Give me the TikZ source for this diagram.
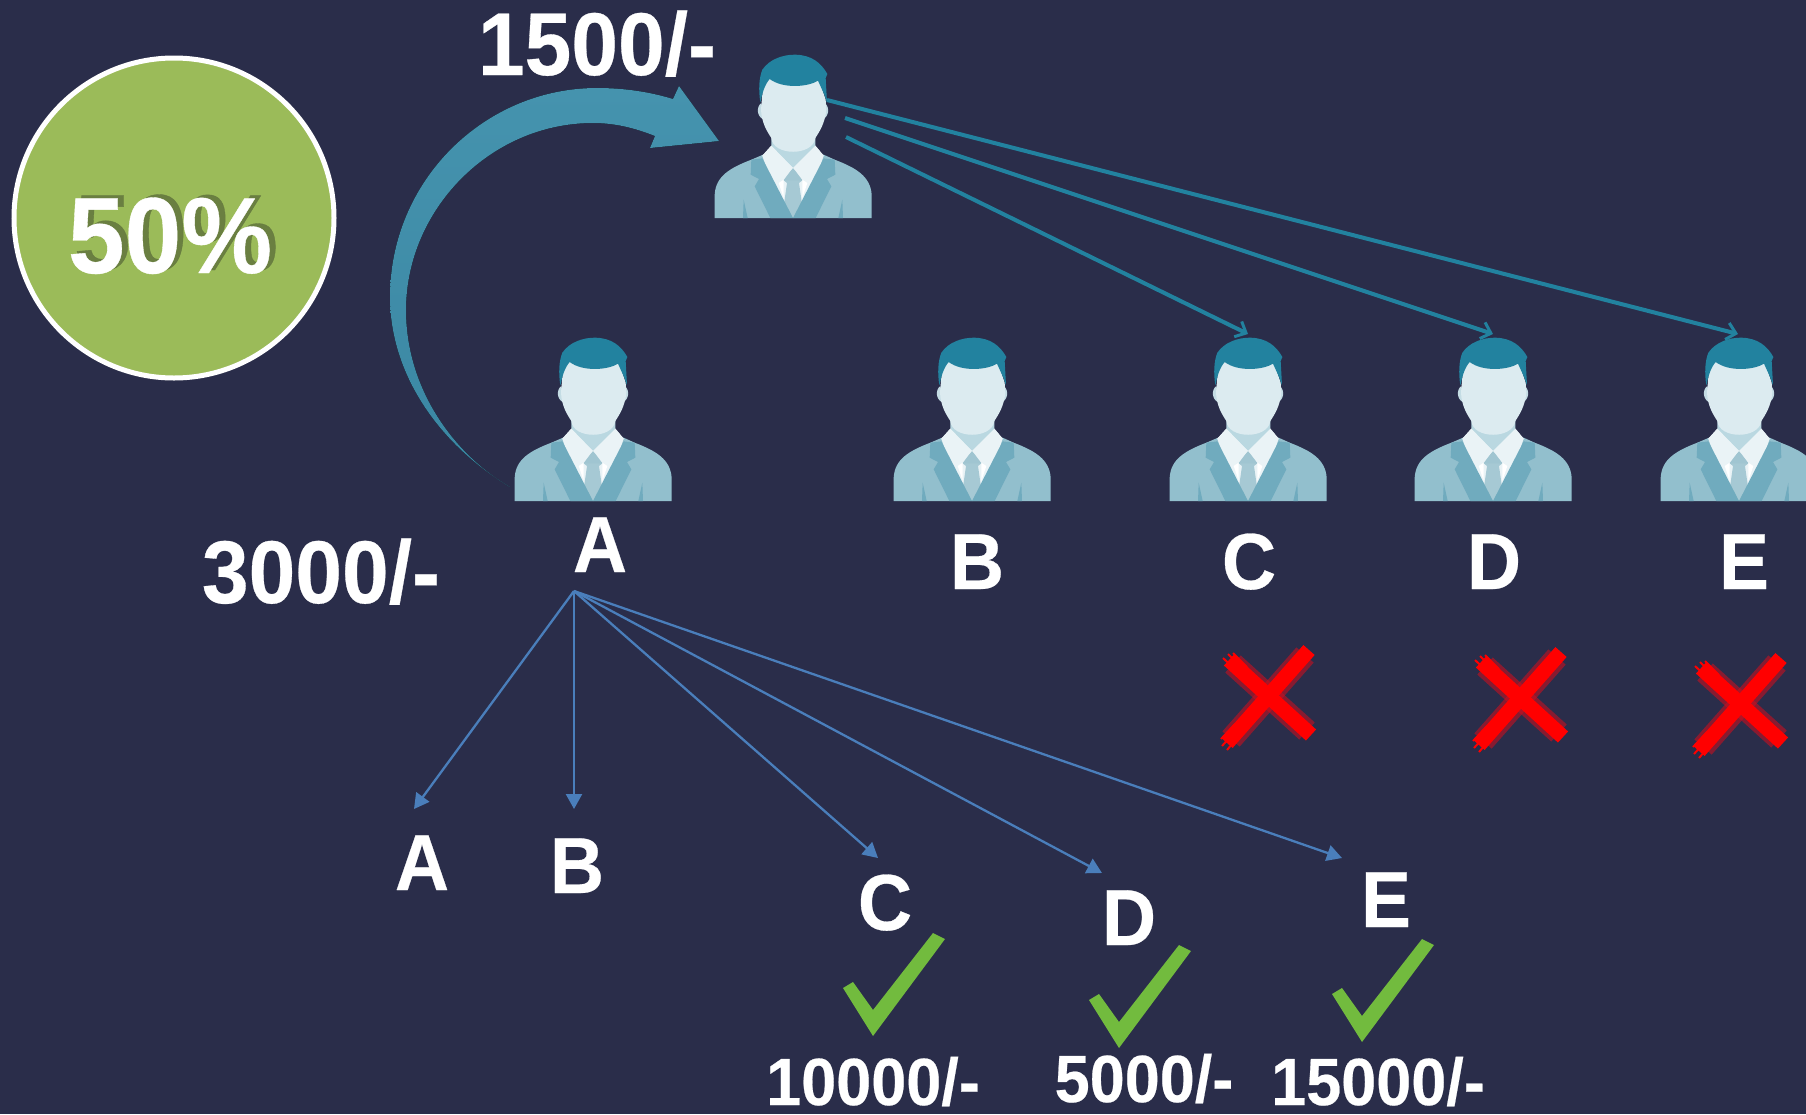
\documentclass[tikz,border=0pt]{standalone}
\usepackage{fontspec}
\setmainfont[BoldFeatures={FakeBold=0.35}]{Liberation Sans}
\usetikzlibrary{arrows.meta}
\definecolor{bgc}{HTML}{2A2D4A}
\definecolor{hair}{HTML}{22829F}
\definecolor{face}{HTML}{DCEBF0}
\definecolor{ear}{HTML}{C4DCE4}
\definecolor{neck}{HTML}{BAD8E1}
\definecolor{suit}{HTML}{92BFCD}
\definecolor{lapel}{HTML}{70ABBE}
\definecolor{shirt}{HTML}{EAF3F6}
\definecolor{tie}{HTML}{A6C9D4}
\definecolor{disc}{HTML}{9BBB59}
\definecolor{discdark}{HTML}{65793F}
\definecolor{check}{HTML}{72BB3E}
\definecolor{link}{HTML}{4A7EBB}
\definecolor{arcA}{HTML}{4593AE}
\definecolor{arcB}{HTML}{3D87A3}
\definecolor{crossdark}{HTML}{C81020}
\tikzset{
  x=1pt,y=-1pt,
  label/.style={text=white,font=\bfseries,anchor=base,inner sep=0pt,transform shape,yscale=1.06},
  big/.style={label,font=\fontsize{84}{84}\bfseries\selectfont},
  letter/.style={label,font=\fontsize{75}{75}\bfseries\selectfont},
  money/.style={label,font=\fontsize{63}{63}\bfseries\selectfont},
  bluelink/.style={draw=link,line width=2.3pt,-{Triangle[length=15pt,width=16pt]}},
  teallink/.style={draw=hair,line width=4pt,-{Straight Barb[length=9pt,width=17pt,line width=3pt]}},
  crossband/.style={draw=crossdark,opacity=.6,line width=23pt},
  crosscore/.style={draw=red,line width=15pt},
  crossbrush/.style={draw=red,line width=2pt},
  person/.pic={
    \begin{scope}[x=0.3333pt,y=-0.3333pt,shift={(-340,-595)}]
      \fill[suit] (105,595) -- (105,525) .. controls (108,470) and (150,445) .. (215,420) -- (250,405) -- (432,405) -- (465,420) .. controls (530,445) and (572,470) .. (576,525) -- (576,595) -- cycle;
      \fill[lapel] (190,595) -- (192,540) -- (204,595) -- cycle;
      \fill[lapel] (490,595) -- (488,540) -- (476,595) -- cycle;
      \fill[shirt] (275,378) -- (407,378) -- (432,408) -- (380,560) -- (300,560) -- (248,408) -- cycle;
      \fill[neck] (275,350) -- (407,350) -- (407,380) -- (340,445) -- (275,380) -- cycle;
      \fill[tie] (340,445) -- (368,482) -- (358,490) -- (368,560) -- (340,595) -- (312,560) -- (322,490) -- (312,482) -- cycle;
      \fill[tie!88!lapel] (340,445) -- (368,482) -- (312,482) -- cycle;
      \fill[lapel] (248,416) -- (340,595) -- (272,595) -- (225,500) -- (238,478) -- (213,465) -- (215,420) -- cycle;
      \fill[lapel] (432,416) -- (340,595) -- (408,595) -- (455,500) -- (442,478) -- (467,465) -- (465,420) -- cycle;
      \fill[shirt] (248,408) -- (275,378) -- (340,445) -- (312,470) -- (295,490) -- cycle;
      \fill[shirt] (432,408) -- (407,378) -- (340,445) -- (368,470) -- (385,490) -- cycle;
      \fill[white] (297,490) -- (312,480) -- (312,535) -- cycle;
      \fill[white] (383,490) -- (368,480) -- (368,535) -- cycle;
      \fill[ear] (245,250) .. controls (228,262) and (232,295) .. (255,300) -- cycle;
      \fill[ear] (435,250) .. controls (452,262) and (448,295) .. (425,300) -- cycle;
      \fill[face] (244,270) -- (250,200) -- (270,170) -- (415,170) -- (438,240) -- (440,270) .. controls (436,310) and (420,335) .. (407,355) .. controls (400,410) and (280,410) .. (275,355) .. controls (262,335) and (246,310) .. (244,270) -- cycle;
      \fill[hair] (242,248) .. controls (236,210) and (238,175) .. (248,150) .. controls (270,118) and (310,105) .. (345,105) .. controls (395,105) and (425,130) .. (443,163) -- (438,175) -- (442,248) -- (434,225) -- (415,183) .. controls (385,202) and (310,208) .. (270,178) .. controls (255,195) and (248,220) .. (242,248) -- cycle;
    \end{scope}
  }
}
\begin{document}
\begin{tikzpicture}
\useasboundingbox (0,0) rectangle (1806,1114);
\clip (0,0) rectangle (1806,1114);
\fill[bgc] (0,0) rectangle (1806,1114);

% disc
\node (disc) at (174,218) [circle,draw=white,line width=5pt,fill=disc,minimum size=320pt,inner sep=0pt] {};
\node[label,font=\fontsize{102}{102}\bfseries\selectfont,text=discdark,opacity=.9] (pctshadow) at (176,270) {50\%};
\node[label,font=\fontsize{102}{102}\bfseries\selectfont] (pct) at (170,273) {50\%};

% curved arrow
\fill[top color=arcA,bottom color=arcB!90!hair,shading angle=0]
  (510,487) .. controls (440,445) and (390,375) .. (390,297)
  .. controls (390,180) and (485,88) .. (597,88)
  .. controls (625,88) and (650,92) .. (673,99)
  -- (679,86) -- (719,141) -- (650,148) -- (655,136)
  .. controls (635,128) and (615,123) .. (593,123)
  .. controls (490,123) and (406,210) .. (406,310)
  .. controls (406,390) and (455,455) .. (510,487) -- cycle;

% people
\pic at (793,218) {person};
\pic at (593,501) {person};
\pic at (972,501) {person};
\pic at (1248,501) {person};
\pic at (1493,501) {person};
\pic at (1739,501) {person};

% teal links
\coordinate (s1) at (827,100);
\coordinate (s2) at (845,118);
\coordinate (s3) at (846,137);
\coordinate (tE) at (1738,334);
\coordinate (tD) at (1493,334);
\coordinate (tC) at (1248,334);
\draw[teallink] (s1) -- (tE);
\draw[teallink] (s2) -- (tD);
\draw[teallink] (s3) -- (tC);

% blue links
\coordinate (root) at (574,591);
\coordinate (bA) at (414,809);
\coordinate (bB) at (574,809);
\coordinate (bC) at (878,858);
\coordinate (bD) at (1102,873);
\coordinate (bE) at (1342,858);
\draw[bluelink] (root) -- (bA);
\draw[bluelink] (root) -- (bB);
\draw[bluelink] (root) -- (bC);
\draw[bluelink] (root) -- (bD);
\draw[bluelink] (root) -- (bE);

% labels
\node[big] (p1500) at (597,75) {1500/-};
\node[big] (p3000) at (321,603) {3000/-};
\node[letter] (lA) at (600,572) {A};
\node[letter] (lB) at (977,589) {B};
\node[letter] (lC) at (1249,589) {C};
\node[letter] (lD) at (1494,589) {D};
\node[letter] (lE) at (1744,589) {E};
\node[letter] (mA) at (422,890) {A};
\node[letter] (mB) at (577,893) {B};
\node[letter] (mC) at (885,930) {C};
\node[letter] (mD) at (1129,945) {D};
\node[letter] (mE) at (1386,927) {E};
\node[money] (m1) at (873,1105) {10000/-};
\node[money] (m2) at (1144,1102) {5000/-};
\node[money] (m3) at (1378,1105) {15000/-};

% crosses
\foreach \cx/\cy in {1269/697,1521/699,1741/705}{
  \begin{scope}[shift={(\cx,\cy)}]
    \path[crossband] (-36,-33) -- (38,34);
    \path[crossband] (36,-42) -- (-38,42);
    \draw[crossbrush] (-46,-39) -- (-30,-24);
    \draw[crossbrush] (-41,-43) -- (-26,-28);
    \draw[crossbrush] (-36,-44) -- (-22,-30);
    \draw[crossbrush] (-47,49) -- (-30,30);
    \draw[crossbrush] (-42,53) -- (-26,34);
    \draw[crossbrush] (-48,42) -- (-34,27);
    \path[crosscore] (-40,-37) -- (42,38);
    \path[crosscore] (40,-47) -- (-42,46);
  \end{scope}
}

% checks
\foreach \dx/\dy in {0/0,246/12,489/6}{
  \begin{scope}[shift={(\dx,\dy)}]
    \fill[check] (843,988) -- (853,982) -- (873,1010) -- (933,933) -- (945,939) -- (873,1036) -- cycle;
  \end{scope}
}
\end{tikzpicture}
\end{document}
